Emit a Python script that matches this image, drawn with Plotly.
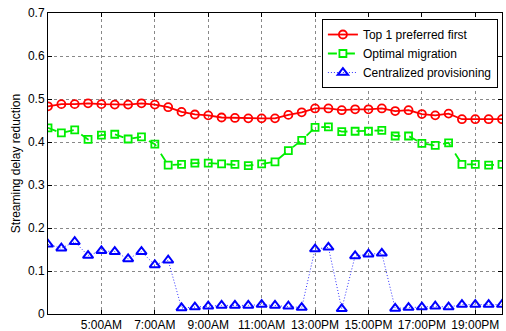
import plotly.graph_objects as go

hours = [3.0 + 0.5 * i for i in range(35)]

top1 = [0.483, 0.488, 0.488, 0.490, 0.488, 0.487, 0.487, 0.490, 0.487, 0.481,
        0.470, 0.464, 0.462, 0.457, 0.456, 0.455, 0.455, 0.455, 0.463, 0.469,
        0.478, 0.478, 0.474, 0.476, 0.476, 0.478, 0.472, 0.474, 0.465, 0.462,
        0.466, 0.453, 0.453, 0.453, 0.453]

optimal = [0.433, 0.421, 0.428, 0.406, 0.416, 0.418, 0.407, 0.412, 0.395, 0.346,
           0.348, 0.351, 0.351, 0.349, 0.348, 0.345, 0.349, 0.354, 0.380, 0.404,
           0.434, 0.435, 0.424, 0.425, 0.425, 0.427, 0.414, 0.414, 0.397, 0.392,
           0.398, 0.348, 0.348, 0.346, 0.348]

central = [0.162, 0.153, 0.168, 0.136, 0.147, 0.145, 0.128, 0.145, 0.114, 0.125,
           0.014, 0.016, 0.018, 0.020, 0.020, 0.020, 0.022, 0.020, 0.018, 0.015,
           0.151, 0.155, 0.012, 0.135, 0.139, 0.141, 0.013, 0.015, 0.016, 0.018,
           0.016, 0.022, 0.022, 0.022, 0.022]

tick_hours = [5, 7, 9, 11, 13, 15, 17, 19]
tick_labels = ["5:00AM", "7:00AM", "9:00AM", "11:00AM", "13:00PM", "15:00PM", "17:00PM", "19:00PM"]
y_ticks = [0, 0.1, 0.2, 0.3, 0.4, 0.5, 0.6, 0.7]
y_labels = ["0", "0.1", "0.2", "0.3", "0.4", "0.5", "0.6", "0.7"]

fig = go.Figure()
fig.add_trace(go.Scatter(
    x=hours, y=top1, name="Top 1 preferred first", mode="lines+markers",
    line=dict(color="#ff0000", width=1.8),
    marker=dict(symbol="circle-open", size=8, color="#ff0000", line=dict(width=1.8)),
))
fig.add_trace(go.Scatter(
    x=hours, y=optimal, name="Optimal migration", mode="lines+markers",
    line=dict(color="#00ee00", width=1.8, dash="dash"),
    marker=dict(symbol="square-open", size=7, color="#00ee00", line=dict(width=1.8)),
))
fig.add_trace(go.Scatter(
    x=hours, y=central, name="Centralized provisioning", mode="lines+markers",
    line=dict(color="#3333ff", width=1, dash="1px,2px"),
    marker=dict(symbol="triangle-up-open", size=9, color="#0000ff", line=dict(width=2)),
))

axis_common = dict(
    showline=True, linecolor="black", linewidth=1, mirror="allticks",
    ticks="inside", ticklen=4, tickcolor="black",
    showgrid=True, gridcolor="#888888", griddash="dot", gridwidth=1,
    zeroline=False, tickfont=dict(family="Liberation Sans, Arial", size=12, color="black"),
)

fig.update_xaxes(range=[3, 20], tickvals=tick_hours, ticktext=tick_labels, **axis_common)
fig.update_yaxes(range=[0, 0.7], tickvals=y_ticks, ticktext=y_labels,
                 title=dict(text="Streaming delay reduction", font=dict(family="Liberation Sans, Arial", size=12, color="black"), standoff=4),
                 **axis_common)

fig.update_layout(
    width=506, height=331,
    margin=dict(l=48, r=4, t=13, b=17, autoexpand=False),
    paper_bgcolor="white", plot_bgcolor="white",
    font=dict(family="Liberation Sans, Arial", size=12, color="black"),
    legend=dict(
        x=0.991, y=0.98, xanchor="right", yanchor="top",
        bgcolor="white", bordercolor="black", borderwidth=1,
        font=dict(size=12), itemwidth=30, tracegroupgap=0,
    ),
    showlegend=True,
)

fig.write_html("out.html")
